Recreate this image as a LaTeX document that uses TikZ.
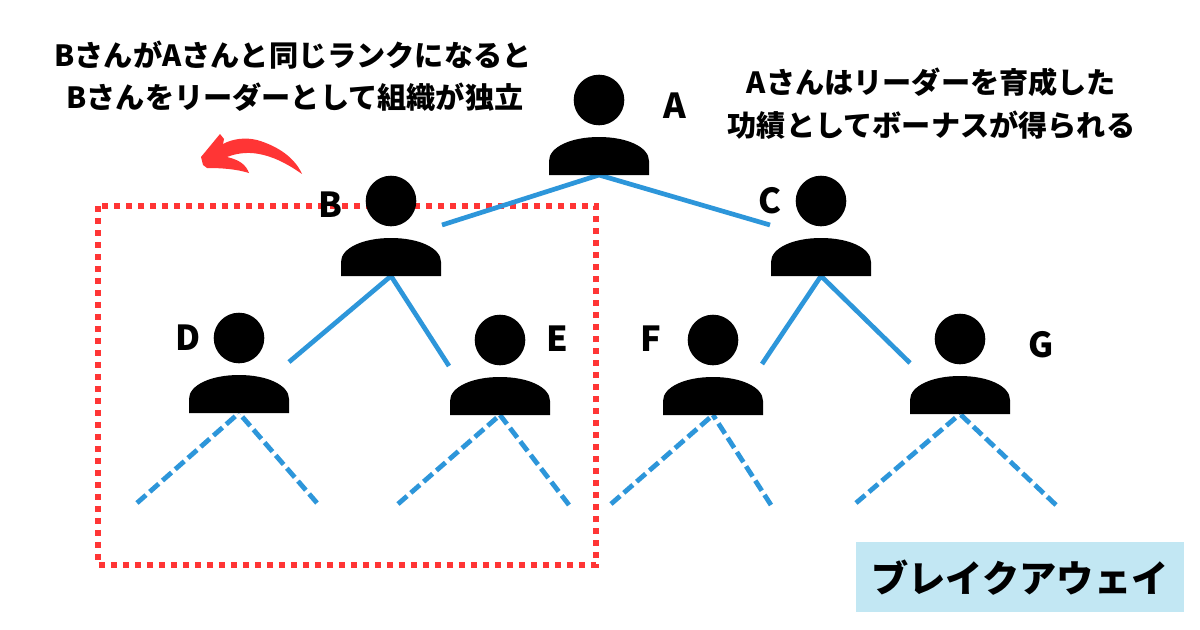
\documentclass[tikz,border=0pt]{standalone}
\usepackage{fontspec}
\setmainfont{Noto Sans CJK JP}
\tikzset{
  x=0.05cm,y=-0.05cm,
  link/.style={draw=linkblue,line width=0.235cm},
  dashlink/.style={link,line width=0.24cm,dash pattern=on 0.6cm off 0.25cm},
  lbl/.style={inner sep=0pt,font=\fontsize{41.5pt}{48pt}\selectfont\bfseries},
  letter/.style={inner sep=0pt,font=\fontsize{49pt}{56pt}\selectfont\bfseries},
  person/.pic={
    \fill[black] (0,-75) circle[radius=25.3];
    \fill[black] (-50,0) -- (-50,-14) .. controls (-50,-28) and (-28,-38) .. (0,-38)
      .. controls (28,-38) and (50,-28) .. (50,-14) -- (50,0) -- cycle;
  }
}
\definecolor{linkblue}{HTML}{2D96DA}
\definecolor{redm}{HTML}{FF3535}
\definecolor{boxblue}{HTML}{C2E7F3}
\begin{document}
\begin{tikzpicture}
\useasboundingbox (0,0) rectangle (1200,630);
\fill[white] (0,0) rectangle (1200,630);
% dotted frame
\draw[redm,line width=0.3cm,dash pattern=on 0.3cm off 0.3cm] (98,206) rectangle (596,565);
% red arrow
\fill[redm] (302,174) .. controls (295,158) and (278,146) .. (257,140)
  .. controls (245,137) and (232,139) .. (223,144)
  -- (224,139) -- (220,134) -- (201,157) -- (203,165) -- (207,168)
  .. controls (222,168) and (236,169) .. (249,173)
  .. controls (246,165) and (240,160) .. (227,157)
  .. controls (245,150) and (268,150) .. (302,174) -- cycle;
% anchors
\coordinate (pA) at (599,175);
\coordinate (pB) at (391,276);
\coordinate (pC) at (821,276);
\coordinate (pD) at (239,413);
\coordinate (pE) at (500,415);
\coordinate (pF) at (713,415);
\coordinate (pG) at (960,414);
\coordinate (eAB) at (442,225);
\coordinate (eAC) at (770,225);
\coordinate (eBD) at (289,362);
\coordinate (eBE) at (449,366);
\coordinate (eCF) at (762,364);
\coordinate (eCG) at (910,363);
\coordinate (eD1) at (137,503);
\coordinate (eD2) at (317,503);
\coordinate (eE1) at (398,504);
\coordinate (eE2) at (569,505);
\coordinate (eF1) at (611,504);
\coordinate (eF2) at (771,505);
\coordinate (eG1) at (856,503);
\coordinate (eG2) at (1056,505);
% connectors
\draw[link] (eAB) -- (pA) -- (eAC);
\draw[link] (eBD) -- (pB) -- (eBE);
\draw[link] (eCF) -- (pC) -- (eCG);
\draw[dashlink] (eD1) -- (pD);
\draw[dashlink] (eD2) -- (pD);
\draw[dashlink] (eE1) -- (pE);
\draw[dashlink] (eE2) -- (pE);
\draw[dashlink] (eF1) -- (pF);
\draw[dashlink] (eF2) -- (pF);
\draw[dashlink] (eG1) -- (pG);
\draw[dashlink] (eG2) -- (pG);
% people
\pic at (pA) {person};
\pic at (pB) {person};
\pic at (pC) {person};
\pic at (pD) {person};
\pic at (pE) {person};
\pic at (pF) {person};
\pic at (pG) {person};
% letters
\node[letter] (lA) at (675,105.5) {A};
\node[letter] (lB) at (330,204.5) {B};
\node[letter] (lC) at (769.5,200.5) {C};
\node[letter] (lD) at (188,338) {D};
\node[letter] (lE) at (557,338.5) {E};
\node[letter] (lF) at (651,338.5) {F};
\node[letter] (lG) at (1041,344.5) {G};
% captions
\node[lbl] (t1) at (293,55.5) {Bさんが{}Aさんと同じランクになると};
\node[lbl] (t2) at (295,97) {Bさんをリーダーとして組織が独立};
\node[lbl] (t3) at (931.5,82.5) {Aさんはリーダーを育成した};
\node[lbl] (t4) at (931.5,125) {功績としてボーナスが得られる};
% title box
\node[fill=boxblue,minimum width=16.4cm,minimum height=3.5cm,inner sep=0pt] (box) at (1020,577) {};
\node[inner sep=0pt,font=\fontsize{53pt}{60pt}\selectfont\bfseries] (title) at (1020,578) {ブレイクアウェイ};
\end{tikzpicture}
\end{document}
